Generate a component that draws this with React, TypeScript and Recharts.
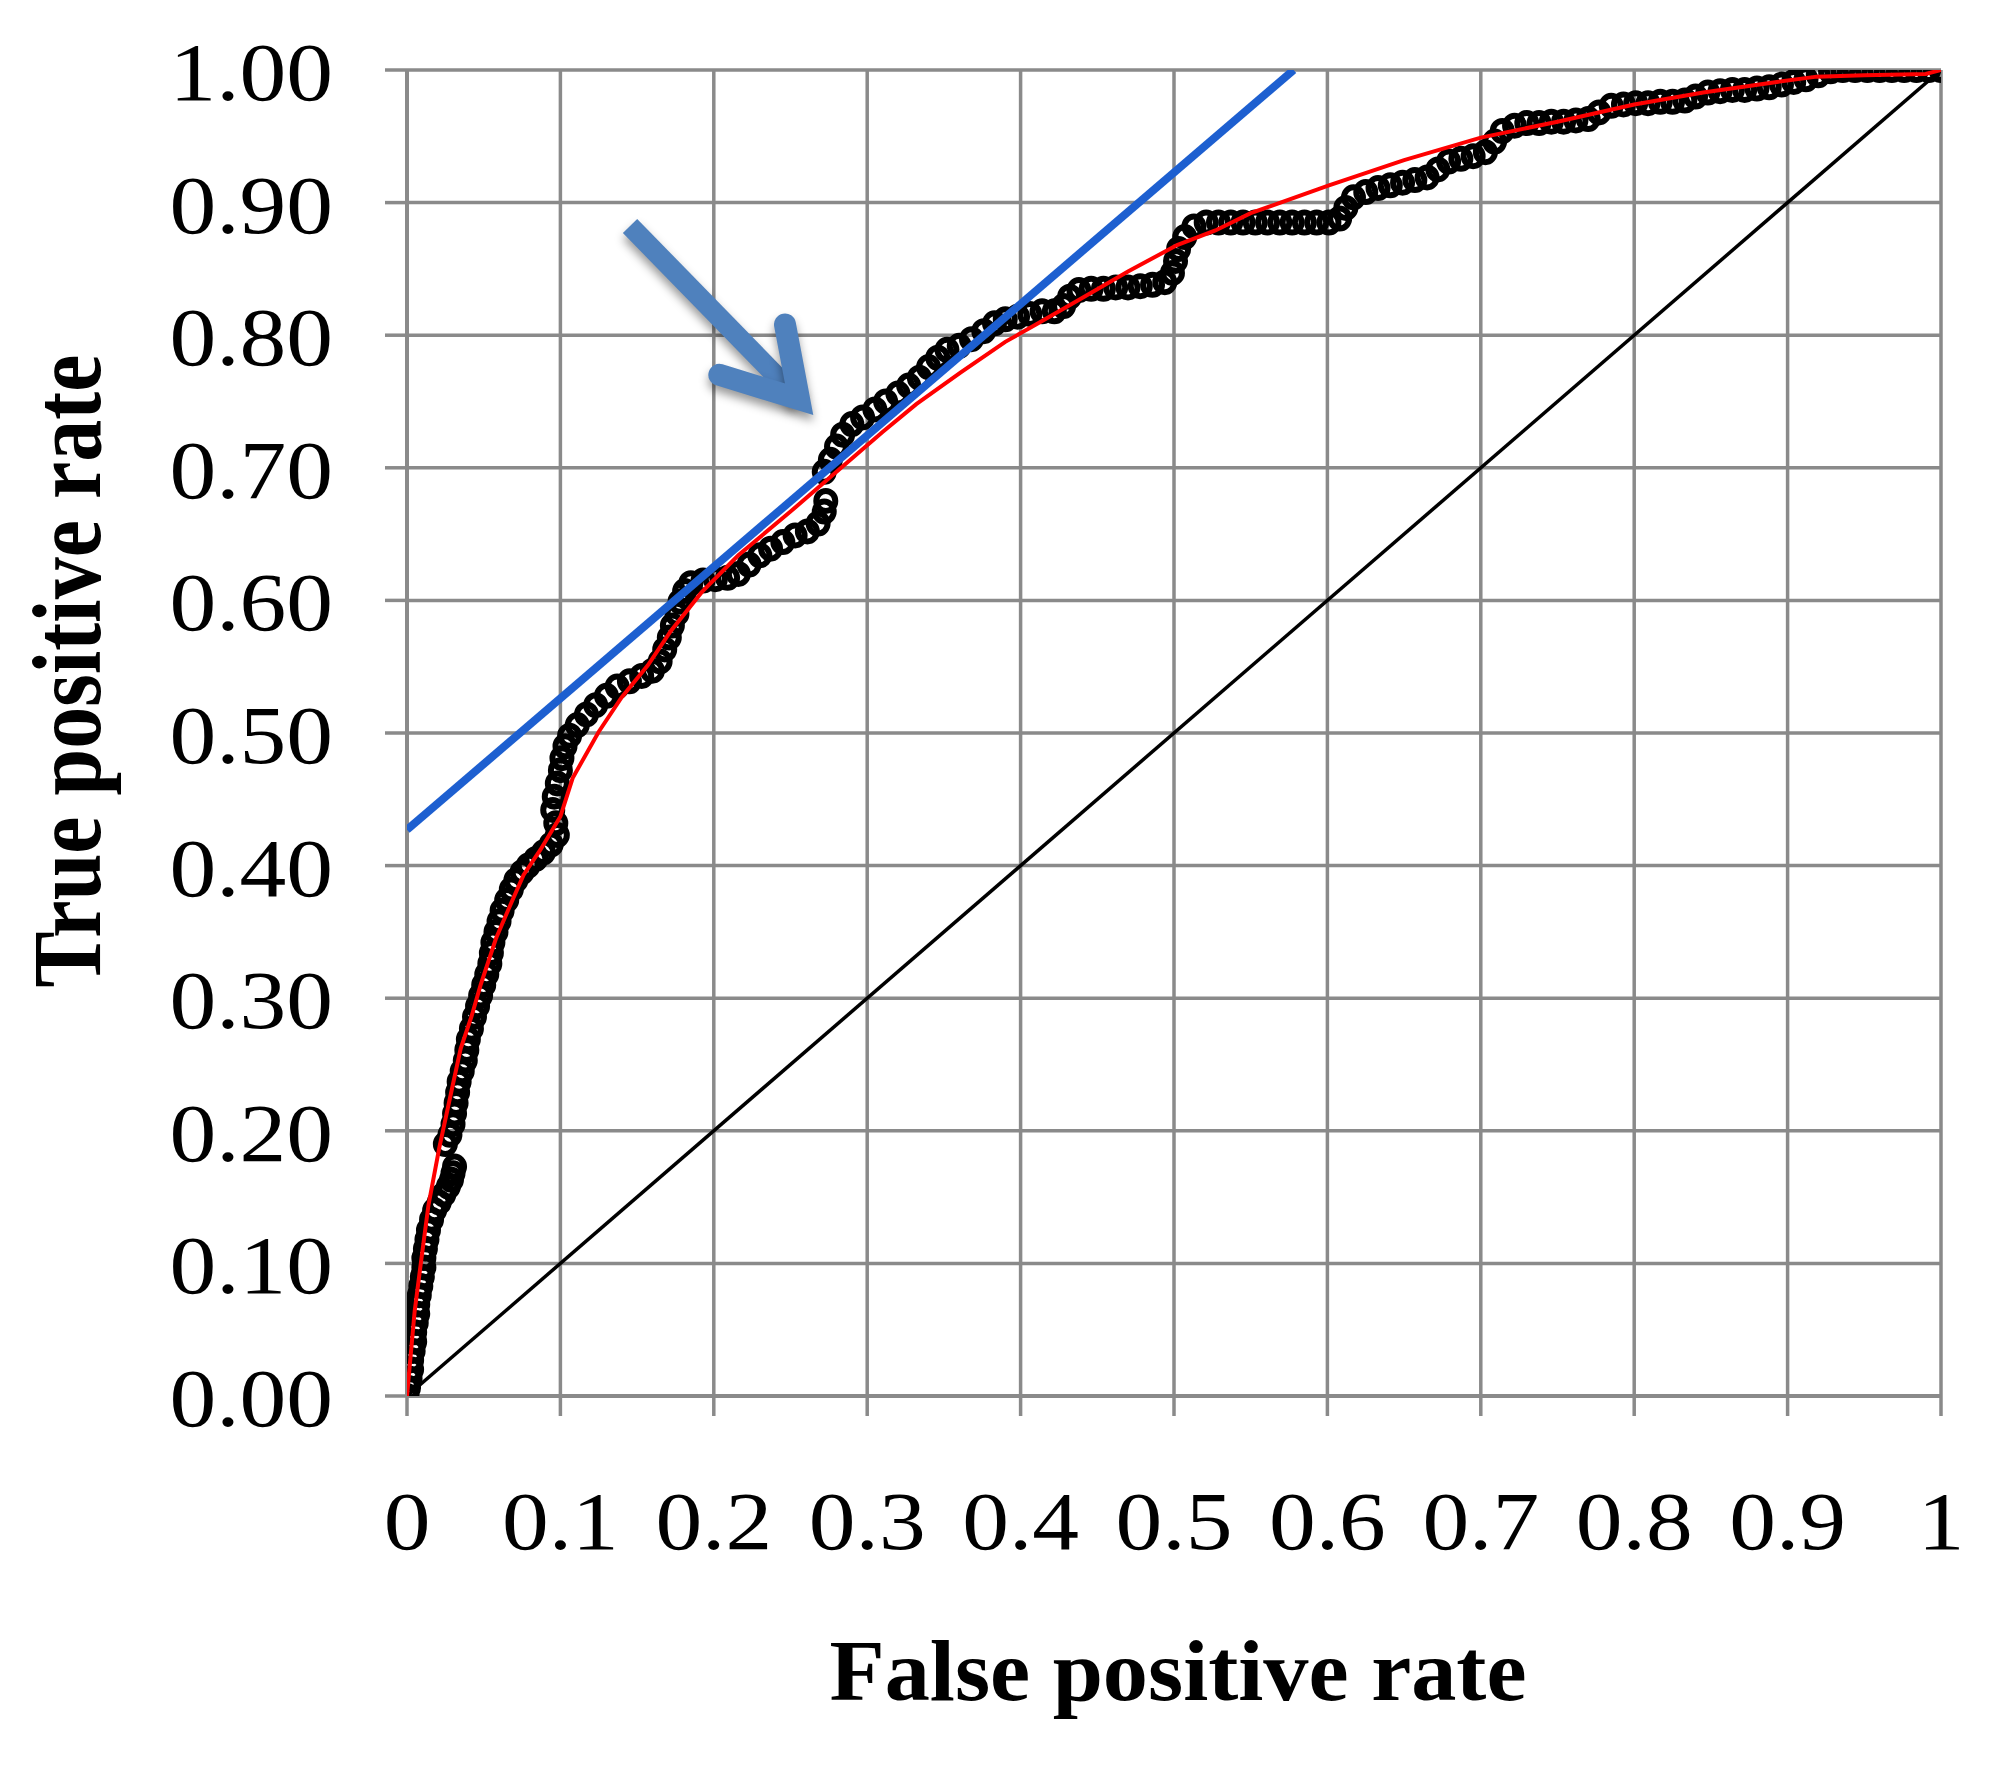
import React from "react";
import { ComposedChart, Scatter, XAxis, YAxis, CartesianGrid } from "recharts";

const SERIF = "'Liberation Serif', 'Times New Roman', serif";

const xTicks = [0, 0.1, 0.2, 0.3, 0.4, 0.5, 0.6, 0.7, 0.8, 0.9, 1];
const xTickLabels = ["0", "0.1", "0.2", "0.3", "0.4", "0.5", "0.6", "0.7", "0.8", "0.9", "1"];
const yTicks = [0, 0.1, 0.2, 0.3, 0.4, 0.5, 0.6, 0.7, 0.8, 0.9, 1];
const yTickLabels = ["0.00", "0.10", "0.20", "0.30", "0.40", "0.50", "0.60", "0.70", "0.80", "0.90", "1.00"];

// empirical ROC points [false positive rate, true positive rate]
const rocPoints: [number, number][] = [
    [0, 0], [0.001, 0.006], [0.002, 0.013], [0.003, 0.02], [0.003, 0.027], [0.004, 0.034], [0.005, 0.041],
    [0.005, 0.048], [0.006, 0.055], [0.007, 0.062], [0.007, 0.069], [0.008, 0.076], [0.009, 0.083], [0.01, 0.09],
    [0.011, 0.097], [0.011, 0.104], [0.012, 0.111], [0.013, 0.118], [0.014, 0.125],
    [0.016, 0.133], [0.018, 0.14], [0.021, 0.146], [0.024, 0.152], [0.027, 0.158], [0.029, 0.163], [0.03, 0.168], [0.031, 0.173],
    [0.025, 0.19], [0.028, 0.197], [0.03, 0.205],
    [0.031, 0.213], [0.032, 0.221], [0.033, 0.229], [0.034, 0.237], [0.036, 0.245],
    [0.038, 0.253], [0.039, 0.261], [0.04, 0.269], [0.042, 0.277],
    [0.044, 0.286], [0.046, 0.294], [0.048, 0.302], [0.05, 0.31], [0.052, 0.318],
    [0.054, 0.326], [0.055, 0.334], [0.056, 0.342], [0.058, 0.35], [0.06, 0.358], [0.062, 0.366],
    [0.065, 0.374], [0.068, 0.382], [0.071, 0.389], [0.075, 0.395], [0.079, 0.4],
    [0.084, 0.405], [0.089, 0.41], [0.094, 0.416], [0.098, 0.423],
    [0.097, 0.432], [0.095, 0.442], [0.096, 0.452], [0.098, 0.462], [0.1, 0.472], [0.101, 0.481], [0.103, 0.49], [0.106, 0.498],
    [0.111, 0.506], [0.117, 0.514], [0.123, 0.521], [0.13, 0.528], [0.137, 0.535], [0.145, 0.539], [0.153, 0.543], [0.16, 0.547],
    [0.165, 0.554], [0.168, 0.563], [0.171, 0.572], [0.173, 0.581], [0.176, 0.59], [0.178, 0.599], [0.181, 0.607], [0.185, 0.613],
    [0.193, 0.615], [0.201, 0.616], [0.209, 0.617], [0.216, 0.62], [0.223, 0.627], [0.23, 0.634], [0.237, 0.639], [0.245, 0.644],
    [0.253, 0.649], [0.261, 0.652], [0.268, 0.658], [0.272, 0.667], [0.273, 0.675],
    [0.272, 0.697], [0.276, 0.706], [0.28, 0.716], [0.284, 0.725], [0.29, 0.733], [0.297, 0.738], [0.305, 0.744], [0.312, 0.75],
    [0.32, 0.756], [0.327, 0.762], [0.334, 0.768], [0.34, 0.776], [0.346, 0.783], [0.352, 0.789], [0.36, 0.792], [0.368, 0.797],
    [0.376, 0.803], [0.383, 0.809], [0.39, 0.812], [0.398, 0.814], [0.406, 0.816], [0.414, 0.818], [0.422, 0.818], [0.428, 0.822],
    [0.432, 0.829], [0.438, 0.834], [0.446, 0.835], [0.454, 0.835], [0.462, 0.836], [0.47, 0.836], [0.478, 0.837], [0.486, 0.838],
    [0.494, 0.84], [0.499, 0.847], [0.501, 0.856], [0.503, 0.865], [0.507, 0.874], [0.513, 0.882], [0.521, 0.885], [0.529, 0.885],
    [0.537, 0.885], [0.545, 0.885], [0.553, 0.885], [0.561, 0.885], [0.569, 0.885], [0.577, 0.885], [0.585, 0.885], [0.593, 0.885],
    [0.601, 0.885], [0.608, 0.888], [0.612, 0.896], [0.617, 0.904], [0.625, 0.908], [0.633, 0.911], [0.641, 0.913], [0.649, 0.915],
    [0.657, 0.917], [0.665, 0.919], [0.672, 0.925], [0.679, 0.931], [0.687, 0.933], [0.695, 0.935], [0.703, 0.938], [0.709, 0.946],
    [0.714, 0.954], [0.722, 0.958], [0.73, 0.96], [0.738, 0.96], [0.746, 0.961], [0.754, 0.961], [0.762, 0.962], [0.77, 0.963],
    [0.777, 0.968], [0.785, 0.973], [0.793, 0.974], [0.801, 0.975], [0.809, 0.975], [0.817, 0.976], [0.825, 0.976], [0.833, 0.977],
    [0.84, 0.98], [0.848, 0.983], [0.856, 0.984], [0.864, 0.985], [0.872, 0.985], [0.88, 0.986], [0.888, 0.987], [0.896, 0.989],
    [0.904, 0.991], [0.912, 0.993], [0.92, 0.996], [0.928, 0.999], [0.936, 1], [0.944, 1], [0.952, 1], [0.96, 1],
    [0.968, 1], [0.976, 1], [0.984, 1], [0.992, 1], [1, 1],
];

// fitted (smoothed) ROC curve
const fittedCurve: [number, number][] = [
    [0, 0], [0.005, 0.064], [0.009, 0.1], [0.014, 0.144], [0.021, 0.187], [0.029, 0.23], [0.035, 0.262], [0.042, 0.286],
    [0.048, 0.31], [0.058, 0.345], [0.068, 0.372], [0.076, 0.393], [0.087, 0.412], [0.1, 0.437], [0.108, 0.466], [0.125, 0.501],
    [0.14, 0.527], [0.157, 0.551], [0.172, 0.577], [0.192, 0.606], [0.216, 0.634], [0.25, 0.667], [0.28, 0.697], [0.31, 0.727],
    [0.332, 0.748], [0.361, 0.772], [0.39, 0.795], [0.41, 0.808], [0.437, 0.826], [0.47, 0.848], [0.502, 0.868],
    [0.527, 0.879], [0.55, 0.892], [0.601, 0.913], [0.65, 0.932], [0.7, 0.949], [0.75, 0.961], [0.8, 0.974], [0.845, 0.983],
    [0.893, 0.991], [0.919, 0.995], [0.95, 0.996], [0.99, 0.997], [1, 1],
];

const chanceLine: [number, number][] = [[0, 0], [1, 1]];
const tangentLine: [number, number][] = [[0, 0.427], [0.578, 1.0]];

// annotation arrow, in data units
const arrowShaft: [number, number][] = [[0.1454, 0.8824], [0.2556, 0.7517]];
const arrowHead: [number, number][] = [[0.2464, 0.8081], [0.2556, 0.7517], [0.2036, 0.7701]];

const toXY = (pts: [number, number][]) => pts.map(([x, y]) => ({ x, y }));

const YTick = ({ x, y, payload }: any) => (
    <g transform={`translate(${x},${y + 30}) scale(1.14,1)`}>
        <text textAnchor="end" fontSize={82} fontFamily={SERIF} fill="#000">
            {yTickLabels[yTicks.indexOf(payload.value)]}
        </text>
    </g>
);

const XTick = ({ x, y, payload }: any) => (
    <g transform={`translate(${x},${y + 56}) scale(1.14,1)`}>
        <text textAnchor="middle" fontSize={82} fontFamily={SERIF} fill="#000">
            {xTickLabels[xTicks.indexOf(payload.value)]}
        </text>
    </g>
);

const Ring = (p: any) => (
    <ellipse cx={p.cx} cy={p.cy} rx={9.5} ry={10} fill="none" stroke="#000" strokeWidth={6} />
);
const NoDot = () => <g />;

export default function App() {
    const gridColor = "#8a8a8a";
    return (
        <div style={{ position: "absolute", left: 0, top: 0, width: 2003, height: 1766, background: "#fff" }}>
            <style>{`.roc-arrow path { filter: drop-shadow(0px 6px 5px rgba(0,0,0,0.4)); }`}</style>
            <ComposedChart width={2003} height={1766} margin={{ top: 70, right: 62, left: 0, bottom: 0 }}>
                <CartesianGrid stroke={gridColor} strokeWidth={3.5} horizontalValues={yTicks} verticalValues={xTicks} />
                <XAxis
                    type="number"
                    dataKey="x"
                    domain={[0, 1]}
                    ticks={xTicks}
                    height={370}
                    tickSize={20}
                    tickMargin={77}
                    axisLine={{ stroke: gridColor, strokeWidth: 4 }}
                    tickLine={{ stroke: gridColor, strokeWidth: 3.5 }}
                    tick={<XTick />}
                    interval={0}
                    allowDataOverflow
                />
                <YAxis
                    type="number"
                    dataKey="y"
                    domain={[0, 1]}
                    ticks={yTicks}
                    width={407}
                    tickSize={22}
                    tickMargin={52}
                    axisLine={{ stroke: gridColor, strokeWidth: 4 }}
                    tickLine={{ stroke: gridColor, strokeWidth: 3.5 }}
                    tick={<YTick />}
                    interval={0}
                    allowDataOverflow
                />
                <Scatter data={toXY(chanceLine)} dataKey="y" line={{ stroke: "#000", strokeWidth: 3.5 }} lineType="joint" shape={NoDot} isAnimationActive={false} />
                <Scatter data={toXY(rocPoints)} dataKey="y" shape={Ring} isAnimationActive={false} />
                <Scatter data={toXY(fittedCurve)} dataKey="y" line={{ stroke: "#ff0000", strokeWidth: 4 }} lineType="joint" shape={NoDot} isAnimationActive={false} />
                <Scatter data={toXY(tangentLine)} dataKey="y" line={{ stroke: "#1d5fd0", strokeWidth: 8 }} lineType="joint" shape={NoDot} isAnimationActive={false} />
                <Scatter className="roc-arrow" data={toXY(arrowShaft)} dataKey="y" line={{ stroke: "#4f81bd", strokeWidth: 20 }} lineType="joint" shape={NoDot} isAnimationActive={false} />
                <Scatter className="roc-arrow" data={toXY(arrowHead)} dataKey="y" line={{ stroke: "#4f81bd", strokeWidth: 22, strokeLinecap: "round", strokeLinejoin: "miter", strokeMiterlimit: 10 }} lineType="joint" shape={NoDot} isAnimationActive={false} />
            </ComposedChart>
            <svg width={2003} height={1766} style={{ position: "absolute", left: 0, top: 0, pointerEvents: "none" }}>
                <g transform="translate(1178,1700) scale(1.05,1)">
                    <text textAnchor="middle" fontSize={86} fontWeight="bold" fontFamily={SERIF} fill="#000">False positive rate</text>
                </g>
                <g transform="translate(100,671) scale(1.15,1) rotate(-90)">
                    <text textAnchor="middle" fontSize={84} fontWeight="bold" fontFamily={SERIF} fill="#000">True positive rate</text>
                </g>
            </svg>
        </div>
    );
}
